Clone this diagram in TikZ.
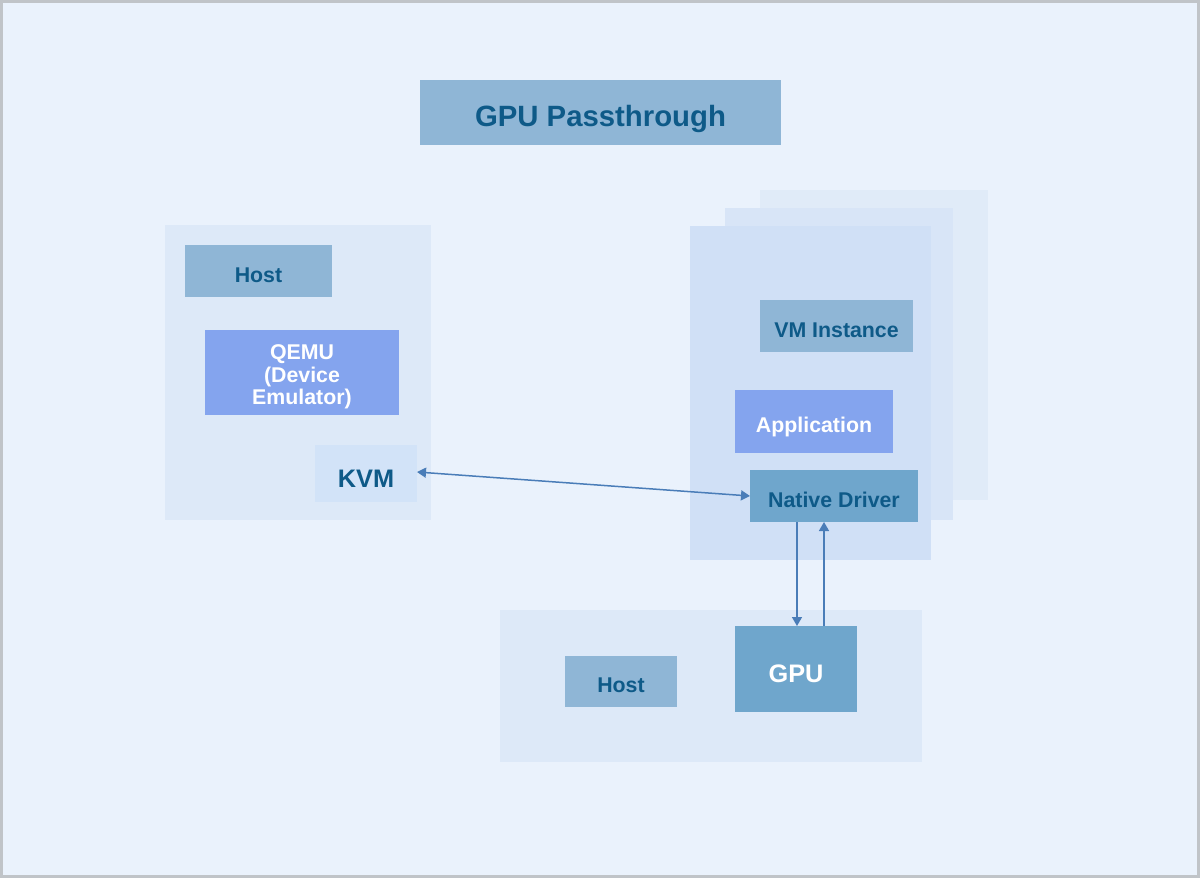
\documentclass[tikz,border=0pt]{standalone}
\usepackage{fontspec}
\setmainfont{Liberation Sans}
\usetikzlibrary{arrows.meta}
\definecolor{bgc}{HTML}{EAF2FC}
\definecolor{bord}{HTML}{C0C4C8}
\definecolor{panel}{HTML}{DDE9F8}
\definecolor{steel}{HTML}{8FB6D6}
\definecolor{violet}{HTML}{84A4EE}
\definecolor{kvmc}{HTML}{D2E3F8}
\definecolor{stackA}{HTML}{E0EBF8}
\definecolor{stackB}{HTML}{D8E5F7}
\definecolor{stackC}{HTML}{D0E0F6}
\definecolor{drv}{HTML}{6FA6CC}
\definecolor{txt}{HTML}{0E5A88}
\definecolor{arr}{HTML}{4A7DB8}
\tikzset{
  box/.style={inner sep=0pt, outer sep=0pt, align=center, text height=22pt, text depth=0pt,
    font=\bfseries\fontsize{21.33}{22.5}\selectfont, text=txt},
  bigtext/.style={font=\bfseries\fontsize{25.33}{27}\selectfont, text height=27.5pt},
  conn/.style={draw=arr, line width=1.5pt, -{Triangle[length=9pt,width=10pt]}},
  conn2/.style={draw=arr, line width=1.5pt, {Triangle[length=9pt,width=10pt]}-{Triangle[length=9pt,width=10pt]}}
}
\begin{document}
\begin{tikzpicture}[x=1pt,y=-1pt]
\useasboundingbox (0,0) rectangle (1200,878);
\fill[bgc] (0,0) rectangle (1200,878);
\draw[bord, line width=3pt] (1.5,1.5) rectangle (1198.5,876.5);
% title
\node[box, fill=steel, minimum width=361pt, minimum height=65pt, text height=28pt, font=\bfseries\fontsize{29.33}{31}\selectfont] (title) at (600.5,112.5) {GPU Passthrough};
% left panel
\node[fill=panel, inner sep=0pt, minimum width=266pt, minimum height=295pt] (lpanel) at (298,372.5) {};
\node[box, fill=steel, minimum width=147pt, minimum height=52pt] (host1) at (258.5,271) {Host};
\node[box, fill=violet, text=white, minimum width=194pt, minimum height=85pt, text height=64pt] (qemu) at (302,372.5) {QEMU\\(Device\\Emulator)};
\node[box, bigtext, fill=kvmc, minimum width=102pt, minimum height=57pt] (kvm) at (366,473.5) {KVM};
% right stack
\node[fill=stackA, inner sep=0pt, minimum width=228pt, minimum height=310pt] (stA) at (874,345) {};
\node[fill=stackB, inner sep=0pt, minimum width=228pt, minimum height=312pt] (stB) at (839,364) {};
\node[fill=stackC, inner sep=0pt, minimum width=241pt, minimum height=334pt] (stC) at (810.5,393) {};
\node[box, fill=steel, minimum width=153pt, minimum height=52pt] (vm) at (836.5,326) {VM Instance};
\node[box, fill=violet, text=white, minimum width=158pt, minimum height=63pt] (app) at (814,421.5) {Application};
\node[box, fill=drv, minimum width=168pt, minimum height=52pt] (drv) at (834,496) {Native Driver};
% bottom panel
\node[fill=panel, inner sep=0pt, minimum width=422pt, minimum height=152pt] (bpanel) at (711,686) {};
\node[box, fill=steel, minimum width=112pt, minimum height=51pt] (host2) at (621,681.5) {Host};
\node[box, bigtext, fill=drv, text=white, minimum width=122pt, minimum height=86pt] (gpu) at (796,669) {GPU};
% connectors
\draw[conn2] (kvm.east |- 0,472) -- (drv.west |- 0,496);
\draw[conn] (drv.south -| 797,0) -- (gpu.north -| 797,0);
\draw[conn] (gpu.north -| 824,0) -- (drv.south -| 824,0);
\end{tikzpicture}
\end{document}
